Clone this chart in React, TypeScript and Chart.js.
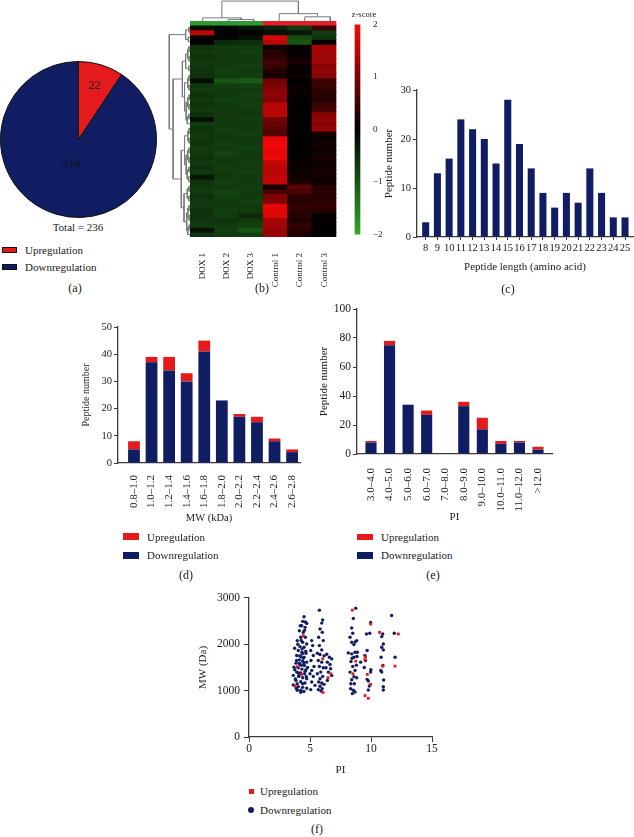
import React, { useEffect, useRef } from 'react';
import { Chart, registerables } from 'chart.js';

Chart.register(...registerables);

const FONT = "'Liberation Serif', 'Times New Roman', serif";
const NAVY = '#101d62';
const RED = '#e41a1c';
const AXIS = '#3a3a3a';
const TEXT = '#1a1a1a';
const ANNOT_GREEN = '#2f9a32';
const ANNOT_RED = '#e3202a';
const DENDRO = '#7a7a7a';

Chart.defaults.font.family = FONT;
Chart.defaults.color = TEXT;

// ---------- (a) pie ----------
const pieLabels = ['Upregulation', 'Downregulation'];
const pieValues = [22, 214];

// ---------- (b) heatmap ----------
const sampleNames = ['DOX 1', 'DOX 2', 'DOX 3', 'Control 1', 'Control 2', 'Control 3'];
const sampleGroups = ['DOX', 'DOX', 'DOX', 'Control', 'Control', 'Control'];
const zDOX1 = [
  -0.2, 1.5, 0.05, 0.0, -0.6, -0.65, -0.6, -0.7, -0.65, -0.6,
  -0.6, -0.15, -0.65, -0.7, -0.6, -0.65, -0.6, -0.7, -0.6, -0.2,
  -0.7, -0.6, -0.65, -0.65, -0.6, -0.7, -0.65, -0.6, -0.7, -0.6,
  -0.65, -0.25, -0.6, -0.65, -0.7, -0.6, -0.65, -0.7, -0.6, -0.6,
  -0.65, -0.7, -0.2, -0.6,
];
const zDOX2 = [
  -0.1, 0.0, -0.05, -0.5, -0.7, -0.7, -0.65, -0.7, -0.7, -0.75,
  -0.7, -1.0, -0.75, -0.7, -0.7, -0.75, -0.7, -0.7, -0.65, -0.7,
  -0.7, -0.75, -0.7, -0.7, -0.75, -0.7, -0.8, -0.7, -0.7, -0.75,
  -0.7, -0.7, -0.75, -0.7, -0.8, -0.75, -0.7, -0.7, -0.75, -0.7,
  -0.6, -0.7, -0.75, -0.7,
];
const zDOX3 = [
  -0.3, 0.05, -0.2, -0.55, -0.7, -0.75, -0.7, -0.7, -0.75, -0.7,
  -0.75, -1.05, -0.75, -0.7, -0.75, -0.7, -0.75, -0.7, -0.7, -0.75,
  -0.7, -0.7, -0.75, -0.7, -0.7, -0.75, -0.7, -0.7, -0.75, -0.7,
  -0.75, -0.7, -0.7, -0.75, -0.7, -0.7, -0.75, -0.7, -0.7, -0.5,
  -0.7, -0.75, -1.0, -0.75,
];
const zControl1 = [
  -0.4, -0.2, 1.7, 1.5, 0.1, 0.3, 0.35, 0.5, 0.45, 0.25,
  0.2, 0.9, 1.0, 1.1, 1.15, 1.05, 1.5, 1.45, 1.5, 0.9,
  0.85, 0.7, 0.65, 1.9, 1.95, 1.9, 1.85, 1.9, 1.6, 1.5,
  1.5, 1.55, 1.6, 0.15, 0.6, 1.0, 1.05, 1.8, 1.85, 1.75,
  1.3, 1.35, 1.2, 1.25,
];
const zControl2 = [
  -0.7, -0.3, -0.9, -1.0, 0.05, 0.0, 0.1, 0.2, 0.1, 0.05,
  0.1, 0.0, 0.05, 0.1, 0.05, 0.0, 0.05, 0.0, 0.05, 0.0,
  0.05, 0.0, 0.05, 0.0, 0.05, 0.0, 0.0, 0.05, 0.1, 0.05,
  0.1, 0.15, 0.2, 0.75, 0.6, 0.35, 0.3, 0.4, 0.35, 0.3,
  0.25, 0.4, 0.3, 0.2,
];
const zControl3 = [
  0.5, -0.7, -0.6, 0.05, 1.3, 1.35, 1.25, 1.3, 1.1, 1.15,
  1.05, 0.5, 0.45, 0.35, 0.3, 0.3, 0.5, 0.55, 1.1, 1.15,
  1.1, 1.2, 0.15, 0.1, 0.15, 0.1, 0.15, 0.2, 0.1, 0.15,
  0.2, 0.15, 0.1, 0.3, 0.35, 0.3, 0.35, 0.4, 0.3, 0.0,
  0.05, 0.0, 0.0, 0.05,
];
const colorbarTicks = [-2, -1, 0, 1, 2];
// dendrogram links: [position A, position B, height A, height B, merge height]
const colLinks = [
  [1.5, 2.5, 0, 0, 1.5],
  [0.5, 2, 0, 1.5, 3],
  [4.5, 5.5, 0, 0, 4],
  [3.5, 5, 0, 4, 7],
  [1.25, 4.25, 3, 7, 19],
];
const rowLinks = [
  [0.5, 1.5, 0, 0, 1], [2.5, 3.5, 0, 0, 1.5], [1, 3, 1, 1.5, 4],
  [4.5, 5.5, 0, 0, 1], [6.5, 7.5, 0, 0, 1], [8.5, 9.5, 0, 0, 1.2],
  [5, 7, 1, 1, 2], [6, 9, 2, 1.2, 4],
  [10.5, 11.5, 0, 0, 1], [12.5, 13.5, 0, 0, 1], [14.5, 15.5, 0, 0, 0.8],
  [16.5, 17.5, 0, 0, 1], [18.5, 19.5, 0, 0, 1],
  [11, 13, 1, 1, 2], [15, 17, 0.8, 1, 2], [19, 20.5, 1, 0, 2.5],
  [16, 19.75, 2, 2.5, 3.5], [12, 17.875, 2, 3.5, 5], [7.5, 14.94, 4, 5, 7],
  [21.5, 22.5, 0, 0, 1], [23.5, 24.5, 0, 0, 1], [25.5, 26.5, 0, 0, 1],
  [27.5, 28.5, 0, 0, 1], [29.5, 30.5, 0, 0, 1], [31.5, 32.5, 0, 0, 1.2],
  [22, 24, 1, 1, 2], [26, 28, 1, 1, 2], [30, 32, 1, 1.2, 2.5],
  [27, 31, 2, 2.5, 3.5], [23, 29, 2, 3.5, 5],
  [33.5, 34.5, 0, 0, 1], [35.5, 36.5, 0, 0, 1], [37.5, 38.5, 0, 0, 1],
  [39.5, 40.5, 0, 0, 1], [41.5, 42.5, 0, 0, 1],
  [34, 36, 1, 1, 2.5], [38, 40, 1, 1, 2], [42, 43.5, 1, 0, 2],
  [39, 42.75, 2, 2, 3], [35, 40.875, 2.5, 3, 5.5],
  [26, 37.94, 5, 5.5, 8], [11.22, 31.97, 7, 8, 15.5], [2, 21.6, 4, 15.5, 19],
];

// ---------- (c) peptide length ----------
const peptideLengths = [8, 9, 10, 11, 12, 13, 14, 15, 16, 17, 18, 19, 20, 21, 22, 23, 24, 25];
const lengthCounts = [3, 13, 16, 24, 22, 20, 15, 28, 19, 14, 9, 6, 9, 7, 14, 9, 4, 4];

// ---------- (d) MW ----------
const mwBins = ['0.8–1.0', '1.0–1.2', '1.2–1.4', '1.4–1.6', '1.6–1.8', '1.8–2.0', '2.0–2.2', '2.2–2.4', '2.4–2.6', '2.6–2.8'];
const mwDown = [5, 37, 34, 30, 41, 23, 17, 15, 8, 4];
const mwUp = [3, 2, 5, 3, 4, 0, 1, 2, 1, 1];

// ---------- (e) PI ----------
const piBins = ['3.0–4.0', '4.0–5.0', '5.0–6.0', '6.0–7.0', '7.0–8.0', '8.0–9.0', '9.0–10.0', '10.0–11.0', '11.0–12.0', '>12.0'];
const piDown = [8, 75, 34, 27, 0, 33, 17, 7, 8, 3];
const piUp = [1, 3, 0, 3, 0, 3, 8, 2, 1, 2];

// ---------- (f) PI vs MW scatter ----------
const upPoints = [
  [3.77, 1100], [3.96, 1514], [4.3, 1350], [4.45, 2186], [6.04, 1686], [6.07, 960],
  [6.47, 1279], [6.7, 1365], [8.47, 2736], [8.52, 1364], [8.75, 1636], [9.5, 1671],
  [9.55, 1730], [9.7, 1350], [9.97, 2436], [9.97, 1136], [9.51, 893], [9.78, 836],
  [10.7, 2257], [10.97, 1529], [11.97, 1529], [12.24, 2222],
];
const downPoints = [
  [4.51, 2593], [4.4, 2493], [4.73, 2450], [4.32, 2400], [4.6, 2365], [4.13, 2293], [4.45, 2257],
  [4.24, 2150], [4.62, 2150], [3.96, 2079], [4.4, 2043], [4.73, 2007], [4.18, 1950], [4.51, 1936],
  [3.74, 1914], [4.04, 1864], [4.34, 1829], [4.67, 1807], [3.91, 1757], [4.24, 1736], [4.51, 1721],
  [4.13, 1664], [4.4, 1636], [4.73, 1614], [3.85, 1593], [4.18, 1564], [4.54, 1543], [3.69, 1507],
  [4.04, 1493], [4.34, 1464], [4.67, 1450], [3.91, 1400], [4.24, 1379], [4.56, 1364], [3.63, 1329],
  [4.07, 1307], [4.4, 1279], [4.73, 1257], [3.85, 1221], [4.24, 1193], [4.59, 1164], [3.63, 1121],
  [4.04, 1086], [4.4, 1071], [3.96, 1007], [4.24, 964], [4.73, 1050],
  [3.8, 1250], [3.95, 1150], [4.1, 1320], [4.3, 1550], [4.5, 1600], [4.6, 1420], [4.15, 1750],
  [4.35, 1900], [4.65, 1850], [4.0, 2000], [4.28, 2080], [4.55, 2300], [4.2, 2400], [3.9, 1650],
  [4.45, 1700], [4.8, 1500], [3.75, 1450], [4.05, 1380], [4.4, 1150], [4.7, 1300], [4.25, 1010],
  [4.5, 980], [3.88, 1050], [4.62, 2480], [4.12, 1590], [4.38, 1800],
  [5.14, 2079], [5.22, 1971], [5.06, 1864], [5.27, 1757], [5.08, 1650], [5.33, 1521], [5.14, 1436],
  [5.0, 1364], [5.27, 1307], [5.14, 1186], [5.41, 1114], [5.06, 1021],
  [5.77, 2736], [6.04, 2522], [5.96, 2457], [5.82, 2329], [6.01, 2257], [5.71, 2150], [6.09, 2079],
  [5.77, 1971], [5.96, 1879], [5.6, 1807], [5.82, 1779], [6.15, 1750], [5.68, 1650], [5.96, 1614],
  [5.77, 1521], [6.09, 1493], [5.88, 1400], [5.6, 1364], [6.04, 1307], [5.82, 1257], [5.71, 1186],
  [5.96, 1164], [6.15, 1136], [5.82, 1093], [6.0, 1043], [5.68, 1021], [5.9, 993],
  [6.37, 1786], [6.59, 1721], [6.78, 1686], [6.42, 1614], [6.64, 1564], [6.31, 1493], [6.69, 1471],
  [6.5, 1400], [6.78, 1329], [6.42, 1221],
  [8.75, 2777], [8.55, 2557], [8.42, 2350], [8.5, 2236], [8.28, 2150], [8.42, 2043], [8.6, 1993],
  [8.83, 2079], [8.14, 1814], [8.42, 1793], [8.69, 1829], [8.88, 1829], [8.36, 1629], [8.6, 1721],
  [8.85, 1736], [8.5, 1521], [9.15, 1614], [8.69, 1436], [8.28, 1400], [8.83, 1279], [8.42, 1236],
  [8.33, 1043], [8.55, 1007], [8.69, 971], [8.47, 936], [8.63, 1150], [8.7, 2050], [8.45, 1700],
  [8.8, 1550], [8.35, 1150], [8.6, 1300],
  [9.97, 2472], [9.63, 2222], [9.9, 2236], [9.68, 1864], [9.5, 1757], [9.55, 1650], [9.99, 1450],
  [9.97, 1400], [9.45, 1500], [9.78, 1207], [9.86, 1100], [9.78, 1014], [9.68, 1243],
  [10.96, 2222], [10.88, 2165], [11.01, 2007], [10.88, 1936], [11.01, 1879], [10.83, 1721],
  [10.97, 1543], [10.88, 1400], [10.8, 1436], [11.04, 1229], [11.01, 1086], [11.01, 1014],
  [11.69, 2622], [11.91, 2236], [11.97, 1721],
];

// ---------- helpers ----------
function zColor(z: number): string {
  const t = Math.max(-1, Math.min(1, z / 2));
  if (t >= 0) return `rgb(${Math.round(248 * t)},${Math.round(8 * t)},${Math.round(8 * t)})`;
  const u = -t;
  return `rgb(${Math.round(48 * u)},${Math.round(168 * u)},${Math.round(40 * u)})`;
}

const baseOptions = (extra: any) => ({
  responsive: false,
  maintainAspectRatio: false,
  animation: false,
  devicePixelRatio: 1,
  events: [],
  plugins: { legend: { display: false }, tooltip: { enabled: false } },
  ...extra,
});

const font = (size: number) => ({ family: FONT, size });
const plainNumber = (v: any) => String(v);

function yAxis(min: number, max: number, step: number, width: number, title: string, titleSize: number, titlePad: number, tickSize: number, tickLen = 4, tickPad = 2) {
  return {
    min, max, stacked: true,
    afterFit: (s: any) => { s.width = width; },
    ticks: { stepSize: step, color: TEXT, font: font(tickSize), padding: tickPad, callback: plainNumber },
    grid: { display: true, drawOnChartArea: false, drawTicks: true, tickLength: tickLen, color: AXIS, lineWidth: 1 },
    border: { display: true, color: AXIS, width: 1.3 },
    title: { display: true, text: title, color: TEXT, font: font(titleSize), padding: { top: titlePad, bottom: 0 } },
  };
}

function binAxis(labels: string[], min: number, max: number, height: number, title: string, titleSize: number, tickSize: number, pad: number) {
  return {
    type: 'linear', min, max, stacked: true, offset: false,
    afterBuildTicks: (s: any) => { s.ticks = labels.map((_, i) => ({ value: i })); },
    afterFit: (s: any) => { s.height = height; },
    ticks: {
      autoSkip: false, minRotation: 90, maxRotation: 90, padding: pad, color: TEXT, font: font(tickSize),
      callback: (v: any) => labels[v] ?? '',
    },
    grid: { display: false, offset: false },
    border: { display: true, color: AXIS, width: 1.3 },
    title: { display: true, text: title, color: TEXT, font: font(titleSize), padding: { top: 0, bottom: 0 } },
  };
}

function dendroDatasets(links: number[][], horizontal: boolean) {
  return links.map((l) => {
    const [pa, pb, ha, hb, h] = l;
    const pts = horizontal
      ? [{ x: ha, y: pa }, { x: h, y: pa }, { x: h, y: pb }, { x: hb, y: pb }]
      : [{ x: pa, y: ha }, { x: pa, y: h }, { x: pb, y: h }, { x: pb, y: hb }];
    return { data: pts, showLine: true, borderColor: DENDRO, borderWidth: 1, pointRadius: 0, tension: 0, fill: false };
  });
}

const pieLabelRadius = [0.72, 0.33];
const pieValueLabels = {
  id: 'pieValueLabels',
  afterDatasetsDraw(chart: any) {
    const meta = chart.getDatasetMeta(0);
    const ctx = chart.ctx;
    ctx.save();
    ctx.font = `12px ${FONT}`;
    ctx.fillStyle = '#111';
    ctx.textAlign = 'center';
    ctx.textBaseline = 'middle';
    meta.data.forEach((arc: any, i: number) => {
      const p = arc.getProps(['x', 'y', 'startAngle', 'endAngle', 'outerRadius'], true);
      const mid = (p.startAngle + p.endAngle) / 2;
      const r = p.outerRadius * pieLabelRadius[i];
      ctx.fillText(String(chart.data.datasets[0].data[i]), p.x + Math.cos(mid) * r, p.y + Math.sin(mid) * r);
    });
    ctx.restore();
  },
};

// ---------- chart configs ----------
const pieConfig = () => ({
  type: 'pie',
  data: { labels: pieLabels, datasets: [{ data: pieValues, backgroundColor: [RED, NAVY], borderColor: '#111', borderWidth: 1 }] },
  options: baseOptions({ layout: { padding: 0 } }),
  plugins: [pieValueLabels],
});

const zColumns = [zDOX1, zDOX2, zDOX3, zControl1, zControl2, zControl3];
const ANNOT_H = 0.85;
const heatmapConfig = () => ({
  type: 'bar',
  data: {
    labels: sampleNames,
    datasets: [
      { data: sampleNames.map(() => ANNOT_H), backgroundColor: sampleGroups.map((g) => (g === 'DOX' ? ANNOT_GREEN : ANNOT_RED)) },
      ...zDOX1.map((_, r) => ({ data: sampleNames.map(() => 1), backgroundColor: zColumns.map((col) => zColor(col[r])) })),
    ],
  },
  options: baseOptions({
    layout: { padding: 0 },
    datasets: { bar: { barPercentage: 1, categoryPercentage: 1, borderWidth: 0, inflateAmount: 0.4 } },
    scales: {
      x: {
        stacked: true,
        afterFit: (s: any) => { s.height = 52; },
        grid: { display: false },
        border: { display: false },
        ticks: { autoSkip: false, minRotation: 90, maxRotation: 90, padding: 8, color: TEXT, font: font(9) },
      },
      y: { stacked: true, display: false, reverse: true, min: 0, max: ANNOT_H + zDOX1.length },
    },
  }),
});

const colorbarConfig = () => ({
  type: 'bar',
  data: {
    labels: [''],
    datasets: [{
      data: [[colorbarTicks[0], colorbarTicks[colorbarTicks.length - 1]]],
      barThickness: 5,
      borderWidth: 0,
      backgroundColor: (c: any) => {
        const area = c.chart.chartArea;
        if (!area) return 'black';
        const g = c.chart.ctx.createLinearGradient(0, area.bottom, 0, area.top);
        g.addColorStop(0, zColor(-2));
        g.addColorStop(0.5, zColor(0));
        g.addColorStop(1, zColor(2));
        return g;
      },
    }],
  },
  options: baseOptions({
    layout: { padding: { top: 5, bottom: 5, left: 0, right: 0 } },
    scales: {
      x: { display: false },
      y: {
        position: 'right', min: -2, max: 2,
        afterFit: (s: any) => { s.width = 23; },
        afterBuildTicks: (s: any) => { s.ticks = colorbarTicks.map((v) => ({ value: v })); },
        ticks: { padding: 2, color: TEXT, font: font(9), callback: (v: any) => String(v).replace('-', '−') },
        grid: { display: false },
        border: { display: false },
      },
    },
  }),
});

const colDendroConfig = () => ({
  type: 'scatter',
  data: { datasets: dendroDatasets(colLinks, false) },
  options: baseOptions({
    layout: { padding: 0 },
    scales: { x: { display: false, min: 0, max: 6 }, y: { display: false, min: 0, max: 20 } },
  }),
});

const rowDendroConfig = () => ({
  type: 'scatter',
  data: { datasets: dendroDatasets(rowLinks, true) },
  options: baseOptions({
    layout: { padding: 0 },
    scales: { x: { display: false, min: 0, max: 22, reverse: true }, y: { display: false, min: 0, max: zDOX1.length, reverse: true } },
  }),
});

const lengthConfig = () => ({
  type: 'bar',
  data: {
    datasets: [{
      data: peptideLengths.map((l, i) => ({ x: l, y: lengthCounts[i] })),
      backgroundColor: NAVY, barPercentage: 0.6, categoryPercentage: 1, borderWidth: 0,
    }],
  },
  options: baseOptions({
    layout: { padding: { top: 10, right: 1, left: 0, bottom: 0 } },
    scales: {
      x: {
        type: 'linear', min: 7.26, max: 25.68, offset: false,
        afterBuildTicks: (s: any) => { s.ticks = peptideLengths.map((v) => ({ value: v })); },
        afterFit: (s: any) => { s.height = 37; },
        ticks: { autoSkip: false, maxRotation: 0, minRotation: 0, padding: 2, color: TEXT, font: font(10.5), callback: plainNumber },
        grid: { display: true, drawOnChartArea: false, drawTicks: true, tickLength: 3, color: AXIS, offset: false },
        border: { display: true, color: AXIS, width: 1.3 },
        title: { display: true, text: 'Peptide length (amino acid)', color: TEXT, font: font(11), padding: { top: 0, bottom: 0 } },
      },
      y: yAxis(0, 30, 10, 37, 'Peptide number', 11, 3, 10.5),
    },
  }),
});

const mwConfig = () => ({
  type: 'bar',
  data: {
    datasets: [
      { label: 'Downregulation', data: mwDown.map((v, i) => ({ x: i, y: v })), backgroundColor: NAVY, barPercentage: 0.67, categoryPercentage: 1, borderWidth: 0 },
      { label: 'Upregulation', data: mwUp.map((v, i) => ({ x: i, y: v })), backgroundColor: RED, barPercentage: 0.67, categoryPercentage: 1, borderWidth: 0 },
    ],
  },
  options: baseOptions({
    layout: { padding: { top: 10, right: 10, left: 0, bottom: 0 } },
    scales: {
      x: binAxis(mwBins, -0.91, 9.45, 62, 'MW (kDa)', 10.5, 11, 4),
      y: yAxis(0, 50, 10, 42, 'Peptide number', 10, 4, 10.5),
    },
  }),
});

const piConfig = () => ({
  type: 'bar',
  data: {
    datasets: [
      { label: 'Downregulation', data: piDown.map((v, i) => ({ x: i, y: v })), backgroundColor: NAVY, barPercentage: 0.6, categoryPercentage: 1, borderWidth: 0 },
      { label: 'Upregulation', data: piUp.map((v, i) => ({ x: i, y: v })), backgroundColor: RED, barPercentage: 0.6, categoryPercentage: 1, borderWidth: 0 },
    ],
  },
  options: baseOptions({
    layout: { padding: { top: 10, right: 10, left: 0, bottom: 0 } },
    scales: {
      x: binAxis(piBins, -0.754, 9.754, 70, 'PI', 11, 11, 6),
      y: yAxis(0, 100, 20, 43, 'Peptide number', 11, 4, 11.5),
    },
  }),
});

const scatterConfig = () => ({
  type: 'scatter',
  data: {
    datasets: [
      { label: 'Upregulation', data: upPoints.map(([x, y]) => ({ x, y })), backgroundColor: RED, borderWidth: 0, pointStyle: 'rect', pointRadius: 2 },
      { label: 'Downregulation', data: downPoints.map(([x, y]) => ({ x, y })), backgroundColor: NAVY, borderWidth: 0, pointStyle: 'circle', pointRadius: 1.7 },
    ],
  },
  options: baseOptions({
    layout: { padding: { top: 10, right: 12, left: 0, bottom: 0 } },
    scales: {
      x: {
        type: 'linear', min: 0, max: 15,
        afterFit: (s: any) => { s.height = 40; },
        ticks: { stepSize: 5, padding: 0, color: TEXT, font: font(11.5), callback: plainNumber },
        grid: { display: true, drawOnChartArea: false, drawTicks: true, tickLength: 5, color: AXIS },
        border: { display: true, color: AXIS, width: 1.3 },
        title: { display: true, text: 'PI', color: TEXT, font: font(11), padding: { top: 0, bottom: 0 } },
      },
      y: { ...yAxis(0, 3000, 1000, 55, 'MW (Da)', 11, 3, 11.5, 5, 4), stacked: false },
    },
  }),
});

// ---------- components ----------
function ChartCanvas({ x, y, w, h, make }: { x: number; y: number; w: number; h: number; make: () => any }) {
  const ref = useRef<HTMLCanvasElement | null>(null);
  useEffect(() => {
    if (!ref.current) return;
    const chart = new Chart(ref.current, make());
    return () => chart.destroy();
  }, []);
  return <canvas ref={ref} width={w} height={h} style={{ position: 'absolute', left: x, top: y, width: w, height: h }} />;
}

function Label({ x, y, text, size = 11, align = 'center' }: { x: number; y: number; text: string; size?: number; align?: 'center' | 'left' }) {
  return (
    <div
      style={{
        position: 'absolute', left: x, top: y, fontFamily: FONT, fontSize: size, color: TEXT, lineHeight: 1,
        whiteSpace: 'nowrap', transform: align === 'center' ? 'translate(-50%, -50%)' : 'translate(0, -50%)',
      }}
    >
      {text}
    </div>
  );
}

function Swatch({ x, y, w, h, color, border, round }: { x: number; y: number; w: number; h: number; color: string; border?: boolean; round?: boolean }) {
  return (
    <div
      style={{
        position: 'absolute', left: x, top: y, width: w, height: h, background: color, boxSizing: 'border-box',
        border: border ? '1px solid #111' : 'none', borderRadius: round ? '50%' : 0,
      }}
    />
  );
}

export default function App() {
  return (
    <div style={{ position: 'absolute', left: 0, top: 0, width: 634, height: 837, background: '#fff', overflow: 'hidden' }}>
      {/* (a) */}
      <ChartCanvas x={0} y={61} w={157} h={157} make={pieConfig} />
      <Label x={78} y={227} text="Total = 236" />
      <Swatch x={2} y={247} w={15} h={6} color={RED} border />
      <Label x={25} y={250} text={pieLabels[0]} align="left" />
      <Swatch x={2} y={264} w={15} h={6} color={NAVY} border />
      <Label x={25} y={267} text={pieLabels[1]} align="left" />
      <Label x={75} y={288} text="(a)" size={12} />

      {/* (b) */}
      <ChartCanvas x={190} y={0} w={153} h={21} make={colDendroConfig} />
      <ChartCanvas x={166} y={25} w={24} h={212} make={rowDendroConfig} />
      <ChartCanvas x={190} y={21} w={153} h={268} make={heatmapConfig} />
      <ChartCanvas x={352} y={17} w={34} h={225} make={colorbarConfig} />
      <Label x={364} y={14} text="z-score" size={8.5} />
      <Label x={262} y={288} text="(b)" size={12} />

      {/* (c) */}
      <ChartCanvas x={380} y={80} w={254} h={194} make={lengthConfig} />
      <Label x={508} y={289} text="(c)" size={12} />

      {/* (d) */}
      <ChartCanvas x={76} y={317} w={234} h={208} make={mwConfig} />
      <Swatch x={123} y={533} w={16} h={7} color={RED} />
      <Label x={147} y={537} text="Upregulation" align="left" />
      <Swatch x={123} y={552} w={16} h={7} color={NAVY} />
      <Label x={147} y={555} text="Downregulation" align="left" />
      <Label x={186} y={575} text="(d)" size={12} />

      {/* (e) */}
      <ChartCanvas x={314} y={299} w={248} h={225} make={piConfig} />
      <Swatch x={357} y={534} w={16} h={6} color={RED} />
      <Label x={381} y={537} text="Upregulation" align="left" />
      <Swatch x={357} y={552} w={16} h={7} color={NAVY} />
      <Label x={381} y={555} text="Downregulation" align="left" />
      <Label x={433} y={575} text="(e)" size={12} />

      {/* (f) */}
      <ChartCanvas x={194} y={587} w={250} h={190} make={scatterConfig} />
      <Swatch x={249} y={789} w={5} h={5} color={RED} />
      <Label x={260} y={791} text="Upregulation" align="left" />
      <Swatch x={248} y={807} w={6} h={6} color={NAVY} round />
      <Label x={260} y={810} text="Downregulation" align="left" />
      <Label x={317} y={829} text="(f)" size={12} />
    </div>
  );
}
